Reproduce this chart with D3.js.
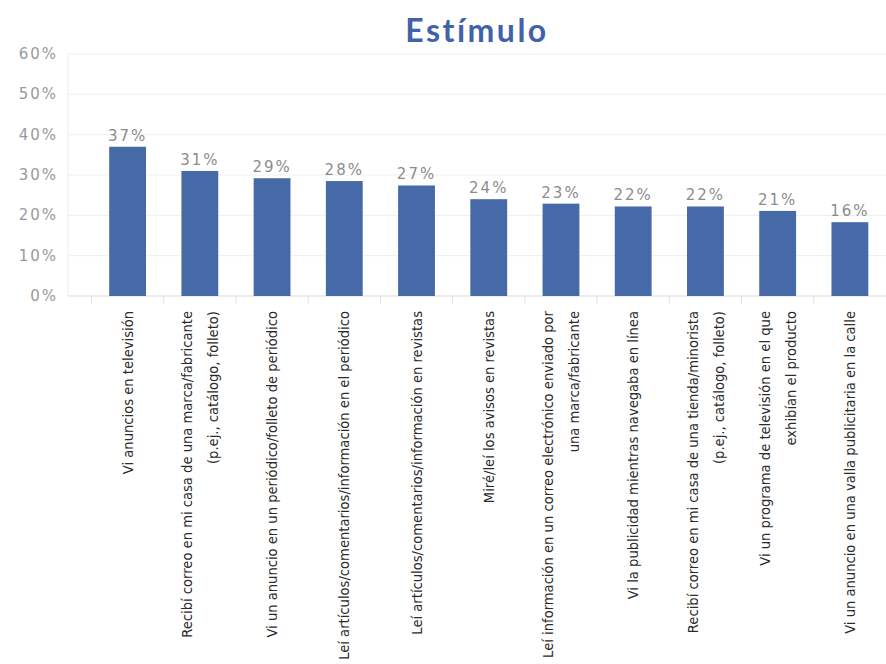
<!DOCTYPE html>
<html>
<head>
<meta charset="utf-8">
<script src="https://cdn.jsdelivr.net/npm/d3@7"></script>
<style>
  body { margin: 0; background: #fff; }
  svg { display: block; }
</style>
</head>
<body>
<svg id="chart" width="886" height="664"></svg>
<script>
// chart title
const chartTitle = "Estímulo";

// categories (line breaks as in the picture)
const categories = [
  ["Vi anuncios en televisión"],
  ["Recibí correo en mi casa de una marca/fabricante", "(p.ej., catálogo, folleto)"],
  ["Vi un anuncio en un periódico/folleto de periódico"],
  ["Leí artículos/comentarios/información en el periódico"],
  ["Leí artículos/comentarios/información en revistas"],
  ["Miré/leí los avisos en revistas"],
  ["Leí información en un correo electrónico enviado por", "una marca/fabricante"],
  ["Vi la publicidad mientras navegaba en línea"],
  ["Recibí correo en mi casa de una tienda/minorista", "(p.ej., catálogo, folleto)"],
  ["Vi un programa de televisión en el que", "exhibían el producto"],
  ["Vi un anuncio en una valla publicitaria en la calle"]
];

// bar heights as drawn (percent)
const values = [37, 31, 29.2, 28.5, 27.4, 24, 22.9, 22.2, 22.2, 21.1, 18.3];

// data labels as printed above the bars
const valueLabels = ["37%", "31%", "29%", "28%", "27%", "24%", "23%", "22%", "22%", "21%", "16%"];

// y axis ticks
const yTicks = [0, 10, 20, 30, 40, 50, 60];

const svg = d3.select("#chart");
const plot = { left: 68, right: 886, top: 54, bottom: 296 };

const keys = categories.map((c, i) => i);

const x = d3.scaleBand()
  .domain(keys)
  .range([91.5, 886])
  .paddingInner(0.49)
  .paddingOuter(0.245);

const y = d3.scaleLinear()
  .domain([0, 60])
  .range([plot.bottom, plot.top]);

// title
svg.append("text")
  .attr("x", 477)
  .attr("y", 42)
  .attr("text-anchor", "middle")
  .style("font-family", "Lato, 'Open Sans', sans-serif")
  .style("font-weight", "bold")
  .style("font-size", "32px")
  .style("letter-spacing", "2.5px")
  .attr("fill", "#3f62a8")
  .text(chartTitle);

// gridlines
svg.append("g")
  .selectAll("line")
  .data(yTicks)
  .join("line")
  .attr("x1", plot.left)
  .attr("x2", plot.right)
  .attr("y1", d => y(d))
  .attr("y2", d => y(d))
  .attr("stroke", d => d === 0 ? "#d9d9d9" : "#efefef")
  .attr("stroke-width", 1);

// left axis line
svg.append("line")
  .attr("x1", plot.left).attr("x2", plot.left)
  .attr("y1", plot.top).attr("y2", plot.bottom)
  .attr("stroke", "#ececec");

// y tick labels
svg.append("g")
  .selectAll("text")
  .data(yTicks)
  .join("text")
  .attr("x", 58)
  .attr("y", d => y(d) + 5)
  .attr("text-anchor", "end")
  .style("font-family", "'DejaVu Sans', sans-serif")
  .style("font-size", "15px")
  .style("letter-spacing", "2px")
  .attr("fill", "#9a9a9a")
  .text(d => d + "%");

// category separators below axis
const step = x.step();
svg.append("g")
  .selectAll("line")
  .data(keys)
  .join("line")
  .attr("x1", d => x(d) + x.bandwidth() / 2 - step / 2)
  .attr("x2", d => x(d) + x.bandwidth() / 2 - step / 2)
  .attr("y1", plot.bottom)
  .attr("y2", plot.bottom + 8)
  .attr("stroke", "#e0e0e0");

// bars
svg.append("g")
  .selectAll("rect")
  .data(values)
  .join("rect")
  .attr("x", (d, i) => x(i))
  .attr("y", d => y(d))
  .attr("width", x.bandwidth())
  .attr("height", d => y(0) - y(d))
  .attr("fill", "#4669a8");

// value labels
svg.append("g")
  .selectAll("text")
  .data(values)
  .join("text")
  .attr("x", (d, i) => x(i) + x.bandwidth() / 2)
  .attr("y", d => y(d) - 6)
  .attr("text-anchor", "middle")
  .style("font-family", "'DejaVu Sans', sans-serif")
  .style("font-size", "15px")
  .style("letter-spacing", "2px")
  .attr("fill", "#8c8c8c")
  .text((d, i) => valueLabels[i]);

// category labels, rotated
const lineGap = 26;
const catG = svg.append("g")
  .selectAll("g")
  .data(categories)
  .join("g")
  .attr("transform", (d, i) => `translate(${x(i) + x.bandwidth() / 2},311) rotate(-90)`);

catG.each(function(lines) {
  const g = d3.select(this);
  lines.forEach((ln, j) => {
    const off = (j - (lines.length - 1) / 2) * lineGap;
    g.append("text")
      .attr("x", 0)
      .attr("y", off)
      .attr("dy", "0.35em")
      .attr("text-anchor", "end")
      .style("font-family", "'DejaVu Sans Condensed', 'Liberation Sans Narrow', sans-serif")
      .style("font-stretch", "condensed")
      .style("font-size", "14.6px")
      .attr("fill", "#2b2b2b")
      .text(ln);
  });
});
</script>
</body>
</html>
